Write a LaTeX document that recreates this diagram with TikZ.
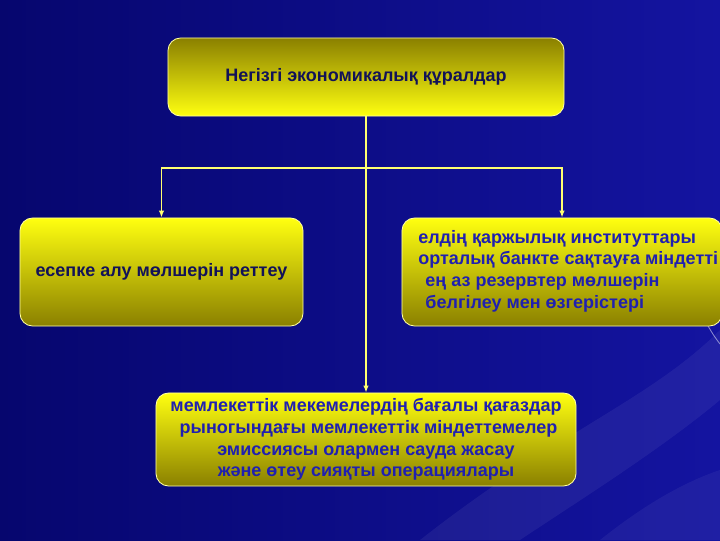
\documentclass[tikz,border=0pt]{standalone}
\usepackage{fontspec}
\setmainfont{Liberation Sans}
\usepackage{tikz}
\usetikzlibrary{arrows.meta,positioning,calc}

\definecolor{bgdark}{HTML}{06066E}
\definecolor{bglight}{HTML}{1414A0}
\definecolor{boxlight}{HTML}{FFFF10}
\definecolor{boxdark}{HTML}{8A8000}
\definecolor{rim}{HTML}{FFFFA0}
\definecolor{inkdark}{HTML}{121258}
\definecolor{inkblue}{HTML}{2020B0}
\definecolor{wire}{HTML}{FFFF70}

\begin{document}
\begin{tikzpicture}[x=0.025cm, y=-0.025cm,
        every node/.style={font=\fontsize{12.8}{15.4}\selectfont\bfseries},
        toolbox/.style={draw=rim, line width=0.6pt, rounded corners=9pt, top color=boxlight, bottom color=boxdark, inner sep=0pt},
        headbox/.style={toolbox, top color=boxdark, bottom color=boxlight},
        wire/.style={draw=wire, line width=1pt, -{Latex[length=5pt,width=4pt]}}]
        \clip (0,0) rectangle (720,540);
        \shade[left color=bgdark, right color=bglight] (0,0) rectangle (720,540);   % background
        \fill[white, opacity=0.06] (420,540) .. controls (560,430) and (650,400) .. (720,330) -- (720,400) .. controls (660,450) and (580,500) .. (520,540) -- cycle;
        \fill[white, opacity=0.05] (600,540) .. controls (650,500) and (690,480) .. (720,470) -- (720,540) -- cycle;
        \draw[white, opacity=0.5, line width=0.6pt] (708,326) .. controls (714,336) .. (720,344);

        % boxes
        \node[headbox, minimum width=9.9cm, minimum height=1.95cm, text=inkdark] (tools) at (366,77) {Негізгі экономикалық құралдар};
        \node[toolbox, minimum width=7.075cm, minimum height=2.7cm, text=inkdark] (rate) at (161.5,272) {есепке алу мөлшерін реттеу};
        \node[toolbox, minimum width=8cm, minimum height=2.7cm, text=inkblue, align=left] (reserve) at (562,272) {};
        \node[anchor=north west, text=inkblue, align=left, inner sep=0pt] (reservetext) at (418,230)
            {елдің қаржылық институттары\\
             орталық банкте сақтауға міндетті\\
             \hspace*{0.4em}ең аз резервтер мөлшерін\\
             \hspace*{0.4em}белгілеу мен өзгерістері};
        \node[toolbox, minimum width=10.5cm, minimum height=2.325cm, text=inkblue, align=center] (market) at (366,439.5)
            {мемлекеттік мекемелердің бағалы қағаздар\\
             \ рыногындағы мемлекеттік міндеттемелер\\
             эмиссиясы олармен сауда жасау\\
             және өтеу сияқты операциялары};

        % connectors
        \coordinate (fork) at (366,168);
        \draw[wire] (tools.south) -- (market.north);      % down to bottom box
        \draw[wire] (fork) -| (rate.north);                 % left branch
        \draw[wire] (fork) -| (reserve.north);              % right branch
\end{tikzpicture}
\end{document}
